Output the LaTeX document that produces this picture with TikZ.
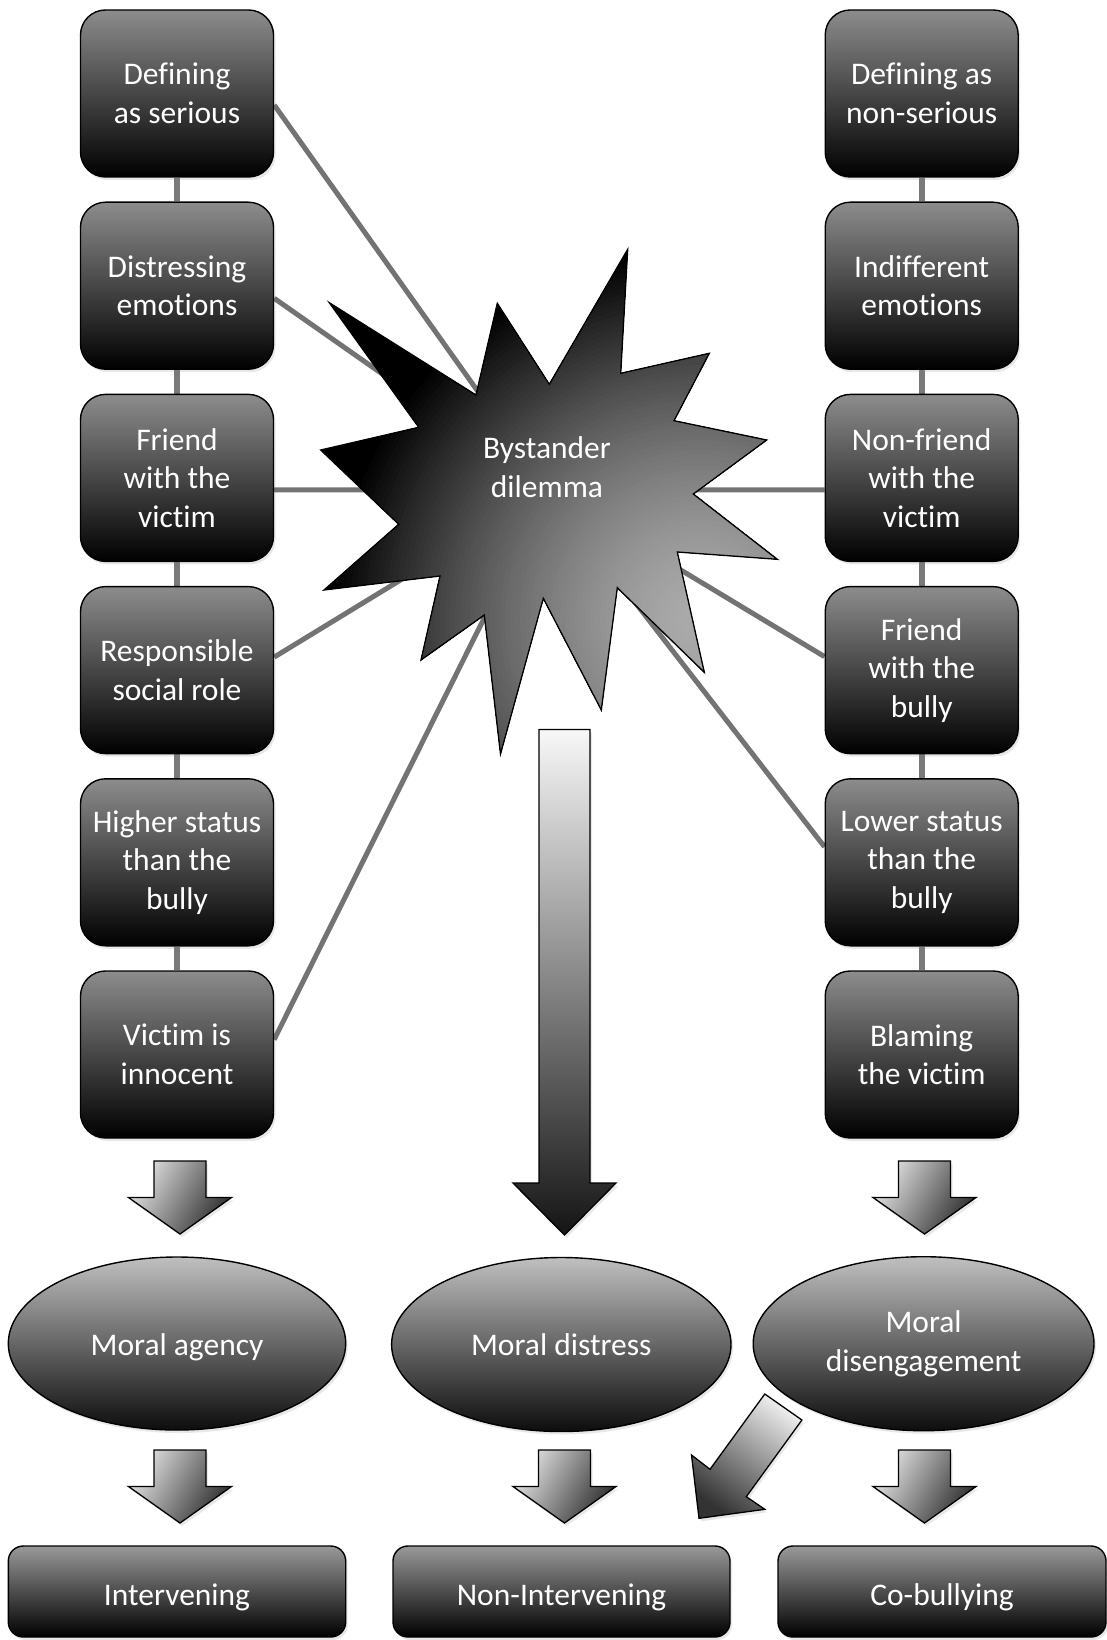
\documentclass[tikz,border=0pt]{standalone}
\usepackage{fontspec}
\setmainfont{Carlito}[Ligatures={CommonOff,ContextualOff},RawFeature=-calt]
\usetikzlibrary{shapes.geometric,shadows,calc}
\pgfdeclarelayer{bg}
\pgfsetlayers{bg,main}
\def\starpath{(627.7,249.3) -- (620.7,373.3) -- (709.3,353.3) -- (674,420.7) -- (766.7,440) -- (693.3,494) -- (777.3,559.3) -- (677.3,552) -- (704.3,672.3) -- (617.3,587.7) -- (601.3,710) -- (543.3,598.3) -- (500.5,754) -- (484.3,615) -- (421,660) -- (440,576) -- (324,590) -- (398.7,524.3) -- (320.7,450) -- (418.7,427.3) -- (329.3,302.7) -- (476,395) -- (497.3,303.3) -- (549.3,384.3) -- cycle}
\begin{document}
\begin{tikzpicture}[x=1pt,y=-1pt,
  shad/.style={drop shadow={shadow xshift=2pt,shadow yshift=-3pt,opacity=0.18}},
  lbl/.style={text=white,font=\fontsize{31.5}{38.5}\selectfont,align=center},
  factor/.style={lbl,draw=black,line width=1.4pt,rounded corners=25pt,minimum width=193pt,minimum height=167pt,inner sep=0pt,top color=black!45,bottom color=black,shad},
  moral/.style={lbl,shape=ellipse,draw=black,line width=1.4pt,inner sep=0pt,top color=black!25,bottom color=black!95,shad},
  outcome/.style={lbl,draw=black,line width=1.4pt,rounded corners=15pt,minimum height=91pt,inner sep=0pt,top color=black!40,bottom color=black,text height=27pt,text depth=0pt,shad},
  conn/.style={draw=black!55,line width=5pt},
  vconn/.style={draw=black!52,line width=6pt},
  smallshade/.style={draw=black,line width=1.3pt,top color=black!12,bottom color=black!82,shading angle=60,shad},
  bigshade/.style={draw=black,line width=1.3pt,top color=black!3,bottom color=black!92,shad},
  diagshade/.style={draw=black,line width=1.3pt,top color=black!8,bottom color=black!80,shading angle=-36,shad},
  smallarr/.pic={\path[smallshade] (-26,0) -- (26,0) -- (26,36.5) -- (51.5,36.5) -- (0,73) -- (-51.5,36.5) -- (-26,36.5) -- cycle;}
]
\useasboundingbox (0,0) rectangle (1107,1640);
\begin{pgfonlayer}{bg}
\fill[white] (0,0) rectangle (1107,1640);
\end{pgfonlayer}

% left column
\node[factor] (l1) at (177,93.5) {Defining\\as serious};
\node[factor] (l2) at (177,285.7) {Distressing\\emotions};
\node[factor] (l3) at (177,477.9) {Friend\\with the\\victim};
\node[factor] (l4) at (177,670.1) {Responsible\\social role};
\node[factor] (l5) at (177,862.3) {Higher status\\than the\\bully};
\node[factor] (l6) at (177,1054.5) {Victim is\\innocent};
% right column
\node[factor] (r1) at (921.7,93.5) {Defining as\\non-serious};
\node[factor] (r2) at (921.7,285.7) {Indifferent\\emotions};
\node[factor] (r3) at (921.7,477.9) {Non-friend\\with the\\victim};
\node[factor] (r4) at (921.7,670.1) {Friend\\with the\\bully};
\node[factor] (r5) at (921.7,862.3) {Lower status\\than the\\bully};
\node[factor] (r6) at (921.7,1054.5) {Blaming\\the victim};

\coordinate (hub) at (548,490);

% star: radial gradient built from concentric discs, clipped to the star
\begin{scope}
\clip \starpath;
\fill[black] \starpath;
\foreach \r in {380,375,...,5} {
  \pgfmathsetmacro\c{min(100,33+67*(\r/370)^1.5)}
  \fill[black!\c] (700,620) circle (\r);
}
\end{scope}
\draw[line width=1.3pt,line join=miter,miter limit=20] \starpath;
\node[lbl] (star) at (547,467) {Bystander\\dilemma};

% connectors (behind)
\begin{pgfonlayer}{bg}
\foreach \a/\b in {l1/l2,l2/l3,l3/l4,l4/l5,l5/l6,r1/r2,r2/r3,r3/r4,r4/r5,r5/r6}
  \draw[vconn] (\a) -- (\b);
\draw[conn] ($(l1.east)+(0,11.5)$) -- (hub);
\draw[conn] ($(l2.east)+(0,12.6)$) -- (hub);
\draw[conn] ($(l3.east)+(0,12)$) -- (hub);
\draw[conn] ($(l4.east)+(0,-13)$) -- (hub);
\draw[conn] ($(l6.east)+(0,-15)$) -- (hub);
\draw[conn] ($(r3.west)+(0,12)$) -- (hub);
\draw[conn] ($(r4.west)+(0,-13.5)$) -- (hub);
\draw[conn] ($(r5.west)+(0,-15.5)$) -- (hub);
\end{pgfonlayer}

% big arrow
\path[bigshade] (539,729.5) -- (590,729.5) -- (590,1183) -- (616,1183) -- (564.5,1235) -- (513,1183) -- (539,1183) -- cycle;

% small arrows
\pic at (180,1161) {smallarr};
\pic at (924.5,1161) {smallarr};
\pic at (180,1450) {smallarr};
\pic at (564.5,1450) {smallarr};
\pic at (924.5,1450) {smallarr};

% ellipses
\node[moral,minimum width=337.4pt,minimum height=173pt,text height=23pt,text depth=0pt] (agency) at (177,1343.5) {Moral agency};
\node[moral,minimum width=339.4pt,minimum height=174pt,text height=22pt,text depth=0pt] (distress) at (561.3,1344.5) {Moral distress};
\node[moral,minimum width=340.8pt,minimum height=174pt] (diseng) at (923.6,1343.7) {Moral\\disengagement};

% diagonal arrow
\path[diagshade] (764.8,1394) -- (710,1469.3) -- (691.5,1455) -- (699,1518.3) -- (764.8,1509.3) -- (746.3,1496.7) -- (801.9,1420) -- cycle;

% outcomes
\node[outcome,minimum width=337.4pt] (interv) at (177,1591.5) {Intervening};
\node[outcome,minimum width=337pt] (nonint) at (561.5,1591.5) {Non-Intervening};
\node[outcome,minimum width=328pt] (cobul) at (942,1591.5) {Co-bullying};
\end{tikzpicture}
\end{document}
